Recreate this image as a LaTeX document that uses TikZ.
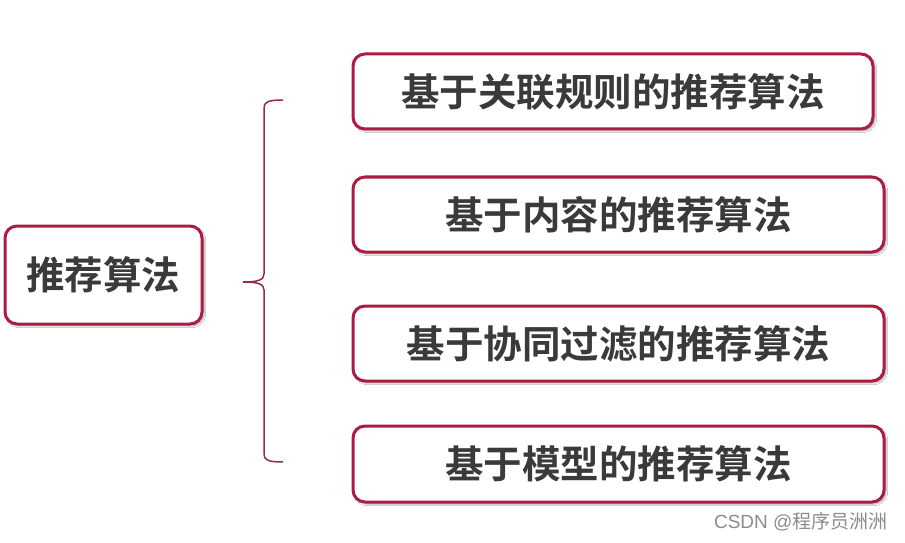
\documentclass[tikz,border=0pt]{standalone}
\usepackage{fontspec}
\newfontfamily\cjk{Noto Sans CJK SC}[BoldFont={Noto Sans CJK SC Bold}]
\newfontfamily\cjkb{Noto Sans CJK SC Bold}
\usetikzlibrary{shadows.blur}
\definecolor{boxred}{RGB}{172,28,66}
\definecolor{bracered}{RGB}{150,45,65}
\definecolor{txt}{RGB}{58,58,58}
\tikzset{
  algbox/.style={draw=boxred, line width=3pt, rounded corners=12pt, fill=white,
    blur shadow={shadow xshift=2pt, shadow yshift=-2pt, shadow blur steps=6, shadow opacity=35},
    inner sep=0pt, text=txt, font=\cjkb\fontsize{38.5}{41}\selectfont},
  brace/.style={draw=bracered, line width=1.5pt}
}
\begin{document}
\begin{tikzpicture}[x=1pt,y=1pt]
\useasboundingbox (0,0) rectangle (905,542);
\fill[white] (0,0) rectangle (905,542);
% left box
\node[algbox, minimum width=197pt, minimum height=98pt] (root) at (103.5,267) {推荐算法};
% right boxes
\node[algbox, minimum width=520pt, minimum height=75pt] (b1) at (613,450.5) {基于关联规则的推荐算法};
\node[algbox, minimum width=531pt, minimum height=75pt] (b2) at (618.5,327.5) {基于内容的推荐算法};
\node[algbox, minimum width=531pt, minimum height=75pt] (b3) at (618.5,198.5) {基于协同过滤的推荐算法};
\node[algbox, minimum width=531pt, minimum height=76pt] (b4) at (618.5,78) {基于模型的推荐算法};
% brace
\coordinate (btop) at (283,442);
\coordinate (btip) at (243,260);
\coordinate (bbot) at (283,80);
\draw[brace] (btop) .. controls (268,442) and (264,440) .. (264,434)
  -- (264,268) .. controls (264,262) and (258,260) .. (btip)
  .. controls (258,260) and (264,258) .. (264,252)
  -- (264,88) .. controls (264,82) and (268,80) .. (bbot);
% watermark
\node[text=black!45, font=\fontsize{19}{21}\selectfont, anchor=east] (wm) at (891,20) {\fontspec{Liberation Sans}CSDN @\cjk 程序员洲洲};
\end{tikzpicture}
\end{document}
